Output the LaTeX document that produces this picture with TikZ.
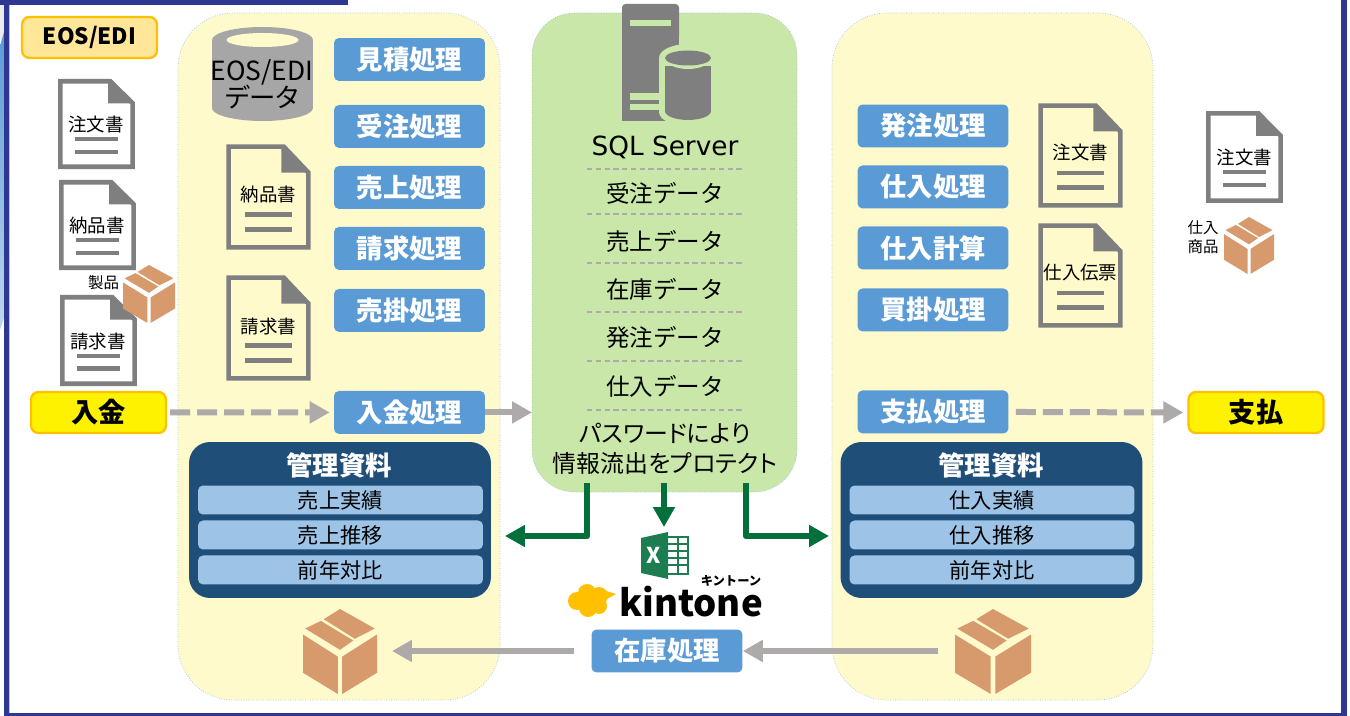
\documentclass[tikz,border=0pt]{standalone}
\usepackage{fontspec}
\setmainfont{Noto Sans CJK JP}
\newfontfamily\sqlfont{DejaVu Sans}
\usepackage{xcolor}
\usetikzlibrary{arrows.meta, positioning}

\definecolor{framec}{HTML}{2E3791}
\definecolor{panelyellow}{HTML}{FEFACC}
\definecolor{panelgreen}{HTML}{C9E7A9}
\definecolor{paneledge}{HTML}{9DC3E6}
\definecolor{procblue}{HTML}{5B9BD5}
\definecolor{mgmtblue}{HTML}{1F4E79}
\definecolor{rowblue}{HTML}{9DC3E6}
\definecolor{flowgrey}{HTML}{AEAAAA}
\definecolor{icongrey}{HTML}{7F7F7F}
\definecolor{cartonc}{HTML}{D69A6C}
\definecolor{flowgreen}{HTML}{03703C}
\definecolor{tagorange}{HTML}{FFC000}
\definecolor{taglight}{HTML}{FFE699}

\tikzset{
    docicon/.pic={
        \draw[icongrey, line width=2.6pt, fill=#1] (0.03,0.025) -- (0.68,0.025) -- (0.97,0.27) -- (0.97,0.975) -- (0.03,0.975) -- cycle;
        \fill[icongrey] (0.65,0.02) -- (0.98,0.27) -- (0.65,0.27) -- cycle;
        \fill[icongrey] (0.22,0.645) rectangle (0.78,0.69);
        \fill[icongrey] (0.22,0.785) rectangle (0.78,0.83);
    },
    carton/.pic={
        \fill[cartonc] (0,0.30) -- (0.47,0.56) -- (0.47,1) -- (0,0.75) -- cycle;
        \fill[cartonc] (0.53,0.56) -- (1,0.30) -- (1,0.75) -- (0.53,1) -- cycle;
        \fill[cartonc] (0.5,0) -- (0.97,0.23) -- (0.70,0.35) -- (0.28,0.12) -- cycle;
        \fill[cartonc] (0.03,0.23) -- (0.24,0.14) -- (0.68,0.37) -- (0.5,0.48) -- cycle;
    },
}

\begin{document}
\begin{tikzpicture}[x=0.02cm, y=-0.02cm, node distance=1.22cm,
    panel/.style={densely dotted, draw=paneledge, thin},
    procbox/.style={fill=procblue, rounded corners=0.1cm, minimum width=3.02cm, minimum height=0.86cm, inner sep=0, text=white, font=\fontsize{15}{16}\bfseries\selectfont},
    tagbox/.style={draw=tagorange, line width=1.3pt, rounded corners=0.15cm, minimum width=2.7cm, minimum height=0.82cm, inner sep=0, font=\fontsize{15.5}{16}\bfseries\selectfont},
    mgmtbox/.style={fill=mgmtblue, rounded corners=0.42cm, minimum width=6.04cm, minimum height=3.12cm},
    mgmttitle/.style={text=white, inner sep=0, font=\fontsize{15}{16}\bfseries\selectfont},
    mgmtrow/.style={fill=rowblue, rounded corners=0.1cm, minimum width=5.7cm, minimum height=0.58cm, inner sep=0, node distance=0.7cm, font=\fontsize{12.1}{13}\selectfont},
    datarow/.style={inner sep=0, font=\fontsize{13.4}{15}\selectfont},
    doctext/.style={inner sep=0, font=\fontsize{10.5}{11}\selectfont},
    smalltext/.style={inner sep=0, align=center, font=\fontsize{8.8}{10.5}\selectfont},
    rule/.style={densely dashed, flowgrey, line width=0.8pt},
    flow/.style={flowgrey, line width=0.12cm, -{Triangle[length=0.4cm, width=0.42cm]}},
    flowdash/.style={flow, dash pattern=on 0.4cm off 0.14cm},
    flowdb/.style={flowgreen, line width=0.13cm, line join=round, -{Triangle[length=0.4cm, width=0.42cm]}},
    ]

    \useasboundingbox (0,0) rectangle (1350,716);
    \fill[white] (0,0) rectangle (1350,716);

    % slide frame
    \fill[gray!15] (0,5) rectangle (4,40);
    \shade[top color=procblue, bottom color=procblue!40] (4,32) -- (4,318) -- (0,330) -- (0,46) -- cycle;
    \fill[framec] (0,0) rectangle (348,5);
    \fill[framec] (4,0) rectangle (9,716);
    \fill[framec!30] (9,5) rectangle (10,713);
    \fill[framec] (4,713) rectangle (1347,716);
    \fill[framec] (1341,0) rectangle (1347,716);

    % panels
    \draw[panel, fill=panelyellow, rounded corners=1.1cm] (178,13) rectangle (500,700);
    \draw[panel, fill=panelgreen, rounded corners=0.85cm] (532,13) rectangle (797,492);
    \draw[panel, fill=panelyellow, rounded corners=1.1cm] (832,13) rectangle (1153,700);

    % left customer column
    \node(eos)[tagbox, fill=taglight, font=\fontsize{12.8}{14}\bfseries\selectfont] at (89.5,37.5){EOS/EDI};
    \pic[xscale=77, yscale=90] at (58,79) {docicon=white};
    \node(doca)[doctext] at (96,125){注文書};
    \pic[xscale=77, yscale=90] at (59,180) {docicon=white};
    \node(docb)[doctext] at (97,226){納品書};
    \pic[xscale=77, yscale=91] at (60,295) {docicon=white};
    \node(docc)[doctext] at (98,341){請求書};
    \pic[xscale=52, yscale=58] at (123,265) {carton};
    \node(seihin)[smalltext] at (103.5,283){製品};
    \node(nyukin)[tagbox, fill=yellow] at (98.5,412.5){入金};

    % left panel
    \fill[gray!70] (212,40) rectangle (313,108);
    \fill[gray!70] (262.5,40) ellipse[x radius=50.5, y radius=13];
    \fill[gray!70] (262.5,108) ellipse[x radius=50.5, y radius=13];
    \fill[panelyellow] (262.5,40) ellipse[x radius=36, y radius=7];
    \node(eosdata)[inner sep=0, align=center, font=\addfontfeature{RawFeature=+palt}\fontsize{15}{15.5}\selectfont] at (262,84){EOS/EDI\\データ};
    \pic[xscale=85, yscale=106] at (226,144) {docicon=panelyellow};
    \node(docd)[doctext] at (268.5,195){納品書};
    \pic[xscale=85, yscale=106] at (226,275) {docicon=panelyellow};
    \node(doce)[doctext] at (268.5,326){請求書};

    \node(mitsumori)[procbox] at (409.5,59.5){見積処理};
    \node(juchu)[procbox, below of=mitsumori, node distance=1.34cm]{受注処理};
    \node(uriage)[procbox, below of=juchu]{売上処理};
    \node(seikyu)[procbox, below of=uriage]{請求処理};
    \node(urikake)[procbox, below of=seikyu, node distance=1.24cm]{売掛処理};
    \node(nyukinp)[procbox, below of=urikake, node distance=2.04cm]{入金処理};

    \node(mgmtl)[mgmtbox] at (340,520){};
    \node(mgmtlt)[mgmttitle] at (339,465){管理資料};
    \node(sla)[mgmtrow] at (340.5,500){売上実績};
    \node(slb)[mgmtrow, below of=sla]{売上推移};
    \node(slc)[mgmtrow, below of=slb]{前年対比};
    \pic[xscale=74, yscale=85] at (303,609) {carton};
    \coordinate(boxl) at (377,651);

    % database panel
    \fill[icongrey, rounded corners=2pt] (622,4) rectangle (679,40);
    \fill[icongrey] (622,12) rectangle (679,121);
    \fill[panelgreen] (630,20) rectangle (671,26);
    \fill[panelgreen] (630,93) rectangle (660,100);
    \fill[panelgreen] (630,104) rectangle (660,110);
    \fill[panelgreen] (659,58) rectangle (717,112);
    \fill[panelgreen] (688,58) ellipse[x radius=29, y radius=14];
    \fill[panelgreen] (688,112) ellipse[x radius=29, y radius=14];
    \fill[icongrey] (665,66) rectangle (711,111);
    \fill[icongrey] (688,111) ellipse[x radius=23, y radius=9];
    \fill[panelgreen] (688,58) ellipse[x radius=23, y radius=11];
    \fill[icongrey] (688,58) ellipse[x radius=23, y radius=7.5];

    \node(sql)[inner sep=0, font=\sqlfont\fontsize{15}{16}\selectfont] at (665,147){SQL Server};
    \node(dja)[datarow] at (665,193){受注データ};
    \node(djb)[datarow, below of=dja, node distance=0.96cm]{売上データ};
    \node(djc)[datarow, below of=djb, node distance=0.96cm]{在庫データ};
    \node(djd)[datarow, below of=djc, node distance=0.98cm]{発注データ};
    \node(dje)[datarow, below of=djd, node distance=0.96cm]{仕入データ};
    \node(protect)[inner sep=0, align=center, font=\addfontfeature{RawFeature=+palt}\fontsize{13.6}{17}\selectfont] at (665,449){パスワードにより\\情報流出をプロテクト};
    \draw[rule] (587,169) -- (743,169);
    \draw[rule] (587,214) -- (743,214);
    \draw[rule] (587,263) -- (743,263);
    \draw[rule] (587,312) -- (743,312);
    \draw[rule] (587,361) -- (743,361);
    \draw[rule] (587,410) -- (743,410);

    % right panel
    \node(hatchu)[procbox] at (933,126){発注処理};
    \node(shiire)[procbox, below of=hatchu]{仕入処理};
    \node(keisan)[procbox, below of=shiire]{仕入計算};
    \node(kaikake)[procbox, below of=keisan, node distance=1.24cm]{買掛処理};
    \node(shiharaip)[procbox, below of=kaikake, node distance=2.04cm]{支払処理};
    \pic[xscale=85, yscale=105] at (1038,103) {docicon=panelyellow};
    \node(docf)[doctext] at (1080.5,153){注文書};
    \pic[xscale=85, yscale=105] at (1038,223) {docicon=panelyellow};
    \node(docg)[doctext] at (1080.5,273){仕入伝票};

    \node(mgmtr)[mgmtbox] at (991.5,520){};
    \node(mgmtrt)[mgmttitle] at (991,465){管理資料};
    \node(sra)[mgmtrow] at (992,500){仕入実績};
    \node(srb)[mgmtrow, below of=sra]{仕入推移};
    \node(src)[mgmtrow, below of=srb]{前年対比};
    \pic[xscale=76, yscale=85] at (955,609) {carton};
    \coordinate(boxr) at (955,651);

    % right supplier column
    \pic[xscale=77, yscale=92] at (1206,111) {docicon=white};
    \node(doch)[doctext] at (1244.5,158){注文書};
    \pic[xscale=50, yscale=57] at (1224,217) {carton};
    \node(shohin)[smalltext] at (1203,237){仕入\\商品};
    \node(shiharai)[tagbox, fill=yellow] at (1256,412.5){支払};

    % excel and kintone
    \fill[white] (667,537) rectangle (688,574);
    \draw[flowgreen!90!white, line width=0.6pt] (667,537) rectangle (688,574);
    \foreach \yy in {544,551,558,565}
        \draw[flowgreen!90!white, line width=0.6pt] (668,\yy) -- (688,\yy);
    \draw[flowgreen!90!white, line width=0.6pt] (678,537) -- (678,574);
    \fill[flowgreen!90!white] (641,538) -- (668,532) -- (668,579) -- (641,573) -- cycle;
    \node(xls)[inner sep=0, text=white, font=\fontsize{12.4}{13}\bfseries\selectfont] at (654,555){X};

    \fill[tagorange] (577,601) circle (9);
    \fill[tagorange] (587,593) circle (9);
    \fill[tagorange] (599,596) circle (9);
    \fill[tagorange] (599,606) circle (8);
    \fill[tagorange] (588,608) circle (9);
    \fill[tagorange] (603,590) -- (616,594) -- (605,600) -- cycle;
    \node(kintone)[inner sep=0, font=\fontsize{20.8}{22}\bfseries\selectfont] at (691,602){kintone};
    \node(kintonekana)[inner sep=0, font=\fontsize{7}{8}\bfseries\selectfont] at (731,581){キントーン};
    \node(zaiko)[procbox] at (667,651){在庫処理};

    % connectors
    \coordinate(dbl) at (587,483);
    \coordinate(dbc) at (664,483);
    \coordinate(dbr) at (746,483);
    \coordinate(mgl) at (505,536);
    \coordinate(xlst) at (664,527);
    \coordinate(mgr) at (829,536);
    \coordinate(dbw) at (532,411);

    \draw[flowdash, shorten <=0.06cm, shorten >=0.08cm] (nyukin.east) -- (nyukinp.west);
    \draw[flow] (nyukinp.east) -- (nyukinp.east -| dbw);
    \draw[flowdash, shorten <=0.14cm, shorten >=0.08cm] (shiharaip.east) -- (shiharai.west);
    \draw[flowdb] (dbl) |- (mgl);
    \draw[flowdb] (dbc) -- (xlst);
    \draw[flowdb] (dbr) |- (mgr);
    \draw[flow, shorten <=0.34cm, shorten >=0.3cm] (zaiko.west) -- (boxl);
    \draw[flow, shorten <=0.34cm] (boxr) -- (zaiko.east);

\end{tikzpicture}
\end{document}
